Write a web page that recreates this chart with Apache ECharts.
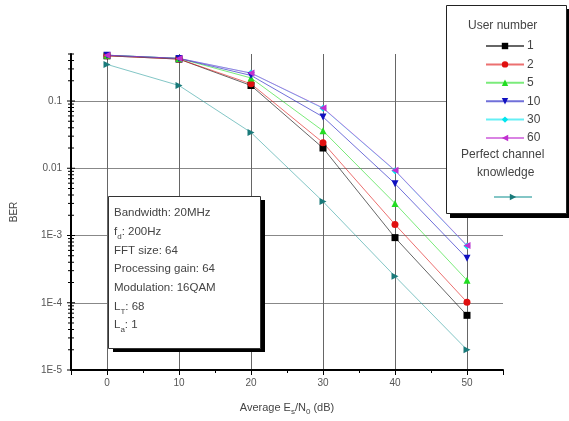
<!DOCTYPE html>
<html>
<head>
<meta charset="utf-8">
<script src="https://cdn.jsdelivr.net/npm/echarts@6/dist/echarts.min.js"></script>
<style>html,body{margin:0;padding:0;background:#fff}#c{width:569px;height:421px}</style>
</head>
<body>
<div id="c"></div>
<script>
var snr = [0, 10, 20, 30, 40, 50];
var user1 = [0.47, 0.42, 0.17, 0.020, 0.00093, 0.000065];
var user2 = [0.47, 0.42, 0.18, 0.024, 0.00146, 0.000102];
var user5 = [0.48, 0.43, 0.22, 0.036, 0.0030, 0.000216];
var user10 = [0.48, 0.43, 0.24, 0.058, 0.0059, 0.000457];
var user30 = [0.48, 0.43, 0.26, 0.078, 0.0092, 0.00070];
var user60 = [0.48, 0.43, 0.26, 0.079, 0.0093, 0.00071];
var perfect = [0.35, 0.17, 0.034, 0.0032, 0.000247, 0.00002];
var seriesNames = ['1', '2', '5', '10', '30', '60'];
var perfectName = 'Perfect channel knowledge';
var yTickValues = [1e-5, 1e-4, 1e-3, 0.01, 0.1];
var yTickLabels = ['1E-5', '1E-4', '1E-3', '0.01', '0.1'];
var yMinorMultipliers = [2, 3, 4, 5, 6, 7, 8, 9];
var infoLines = [
  ['Bandwidth: 20MHz', '', ''],
  ['f', 'd', ': 200Hz'],
  ['FFT size: 64', '', ''],
  ['Processing gain: 64', '', ''],
  ['Modulation: 16QAM', '', ''],
  ['L', 'T', ': 68'],
  ['L', 'a', ': 1']
];

var FONT = 'Liberation Sans';
var chart = echarts.init(document.getElementById('c'));

function pairs(vals) { return snr.map(function (x, i) { return [x, vals[i]]; }); }

var yMin = 1e-5, yMax = 0.5;
var minorY = [];
yTickValues.forEach(function (d) {
  yMinorMultipliers.forEach(function (m) {
    var v = d * m;
    if (v <= yMax + 1e-12) minorY.push([-5, v, 0]);
  });
  minorY.push([-5, d, 1]);
});

function mk(name, vals, color, symbol, rotate, lineColor) {
  return {
    name: name, type: 'line', data: pairs(vals),
    symbol: symbol, symbolSize: 7, symbolRotate: rotate || 0,
    itemStyle: { color: color },
    lineStyle: { color: lineColor || color, width: 1, opacity: 0.6 },
    z: 3
  };
}

var series = [
  mk(seriesNames[4], user30, '#00e5ee', 'diamond', 0),
  mk(seriesNames[0], user1, '#000000', 'rect', 0),
  mk(seriesNames[1], user2, '#e01010', 'circle', 0),
  mk(seriesNames[2], user5, '#22dd22', 'triangle', 0),
  mk(seriesNames[3], user10, '#1010c0', 'triangle', 180),
  mk(seriesNames[5], user60, '#c030d0', 'triangle', 90),
  mk(perfectName, perfect, '#1a7a7a', 'triangle', -90, '#30a0a0'),
  {
    type: 'custom', silent: true, data: minorY, z: 5, clip: false,
    renderItem: function (params, api) {
      var p = api.coord([api.value(0), api.value(1)]);
      var L = api.value(2) ? 4 : 3;
      return { type: 'line', shape: { x1: p[0] - L, y1: p[1], x2: p[0] + L, y2: p[1] },
        style: { stroke: '#000', lineWidth: 1 } };
    }
  }
];

var graphics = [
  { type: 'rect', left: 450, top: 9, shape: { width: 122, height: 209 }, style: { fill: '#000' }, z: 3 },
  { type: 'rect', left: 446, top: 5, shape: { width: 120, height: 208 }, style: { fill: '#fff', stroke: '#222', lineWidth: 1 }, z: 3 },
  { type: 'text', left: 468, top: 20, style: { text: 'User number', font: '12px "' + FONT + '"', fill: '#444' }, z: 5 },
  { type: 'text', left: 461, top: 149, style: { text: 'Perfect channel', font: '12px "' + FONT + '"', fill: '#444' }, z: 5 },
  { type: 'text', left: 477, top: 167, style: { text: 'knowledge', font: '12px "' + FONT + '"', fill: '#444' }, z: 5 },
  { type: 'rect', left: 113, top: 200, shape: { width: 152, height: 152 }, style: { fill: '#000' }, z: 3 },
  { type: 'rect', left: 108, top: 196, shape: { width: 152, height: 152 }, style: { fill: '#fff', stroke: '#333', lineWidth: 1 }, z: 3 }
];
infoLines.forEach(function (ln, i) {
  var txt = '{a|' + ln[0] + '}' + (ln[1] ? '{s|' + ln[1] + '}' : '') + (ln[2] ? '{a|' + ln[2] + '}' : '');
  graphics.push({
    type: 'text', left: 114, top: 207 + i * 18.7, z: 5,
    style: {
      text: txt, fill: '#444',
      rich: {
        a: { fontSize: 11.5, fontFamily: FONT, fill: '#444', lineHeight: 14, verticalAlign: 'top' },
        s: { fontSize: 8, fontFamily: FONT, fill: '#444', lineHeight: 14, verticalAlign: 'top', padding: [7, 0, 0, 0] }
      }
    }
  });
});

chart.setOption({
  animation: false,
  backgroundColor: '#fff',
  grid: { left: 71, right: 66, top: 54, bottom: 50 },
  legend: [
    {
      data: seriesNames, orient: 'vertical', left: 480, top: 35,
      itemWidth: 38, itemHeight: 8, itemGap: 6.4,
      textStyle: { fontSize: 12, fontFamily: FONT, color: '#444', padding: [0, 0, 0, -2] },
      z: 6
    },
    {
      data: [perfectName], orient: 'vertical', left: 488, top: 188,
      itemWidth: 38, itemHeight: 8, formatter: function () { return ''; },
      z: 6
    }
  ],
  xAxis: {
    type: 'value', min: -5, max: 55, splitNumber: 6,
    axisLine: { onZero: false, lineStyle: { color: '#000', width: 2 } },
    axisTick: { show: true, length: 5, lineStyle: { color: '#000' } },
    minorTick: { show: true, splitNumber: 2, length: 3, lineStyle: { color: '#000' } },
    axisLabel: { showMinLabel: false, showMaxLabel: false, fontSize: 10, fontFamily: FONT, color: '#555', margin: 8 },
    splitLine: { show: true, showMinLine: false, showMaxLine: false, lineStyle: { color: '#666', width: 1 } },
    name: '{a|Average E}{s|s}{a|/N}{s|0}{a| (dB)}',
    nameLocation: 'middle', nameGap: 32,
    nameTextStyle: {
      rich: {
        a: { fontSize: 11, fontFamily: FONT, color: '#444', lineHeight: 14, verticalAlign: 'top' },
        s: { fontSize: 8, fontFamily: FONT, color: '#444', lineHeight: 14, verticalAlign: 'top', padding: [6, 0, 0, 0] }
      }
    }
  },
  yAxis: {
    type: 'log', min: yMin, max: yMax, logBase: 10,
    axisLine: { onZero: false, lineStyle: { color: '#000', width: 2 } },
    axisTick: { show: false },
    axisLabel: {
      showMaxLabel: false, fontSize: 10, fontFamily: FONT, color: '#555', margin: 9,
      formatter: function (v) {
        for (var i = 0; i < yTickValues.length; i++) {
          if (Math.abs(Math.log10(v) - Math.log10(yTickValues[i])) < 1e-6) return yTickLabels[i];
        }
        return '';
      }
    },
    splitLine: { show: true, showMinLine: false, showMaxLine: false, lineStyle: { color: '#888', width: 1 } },
    name: 'BER', nameLocation: 'middle', nameGap: 52, nameRotate: 90,
    nameTextStyle: { fontSize: 10, fontFamily: FONT, color: '#444' }
  },
  graphic: graphics,
  series: series
});
</script>
</body>
</html>
